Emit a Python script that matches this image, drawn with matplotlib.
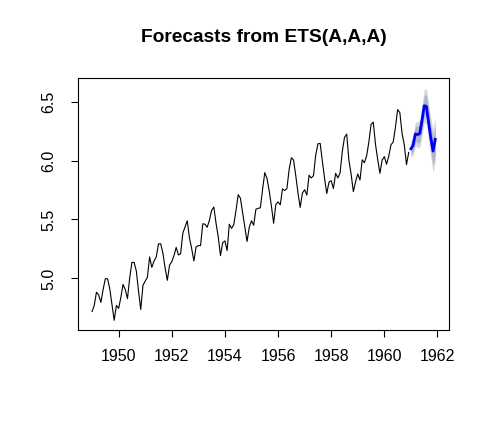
import numpy as np
import matplotlib
matplotlib.use("Agg")
import matplotlib.pyplot as plt

plt.rcParams['font.family'] = ['Liberation Sans', 'DejaVu Sans']

# Monthly airline passengers 1949-1960 (plotted on log scale values)
passengers = [
    112, 118, 132, 129, 121, 135, 148, 148, 136, 119, 104, 118,
    115, 126, 141, 135, 125, 149, 170, 170, 158, 133, 114, 140,
    145, 150, 178, 163, 172, 178, 199, 199, 184, 162, 146, 166,
    171, 180, 193, 181, 183, 218, 230, 242, 209, 191, 172, 194,
    196, 196, 236, 235, 229, 243, 264, 272, 237, 211, 180, 201,
    204, 188, 235, 227, 234, 264, 302, 293, 259, 229, 203, 229,
    242, 233, 267, 269, 270, 315, 364, 347, 312, 274, 237, 278,
    284, 277, 317, 313, 318, 374, 413, 405, 355, 306, 271, 306,
    315, 301, 356, 348, 355, 422, 465, 467, 404, 347, 305, 336,
    340, 318, 362, 348, 363, 435, 491, 505, 404, 359, 310, 337,
    360, 342, 406, 396, 420, 472, 548, 559, 463, 407, 362, 405,
    417, 391, 419, 461, 472, 535, 622, 606, 508, 461, 390, 432,
]
start_year = 1949
forecast_start = 1961

# Forecast (1961) point forecast and prediction intervals
fc_mean = [6.10, 6.13, 6.226, 6.22, 6.23, 6.34, 6.465, 6.46, 6.32, 6.19, 6.08, 6.18]
lo80 = [6.054, 6.075, 6.161, 6.148, 6.152, 6.255, 6.374, 6.362, 6.216, 6.08, 5.963, 6.056]
hi80 = [6.146, 6.185, 6.291, 6.292, 6.308, 6.425, 6.556, 6.558, 6.424, 6.30, 6.197, 6.304]
lo95 = [6.03, 6.045, 6.126, 6.11, 6.11, 6.21, 6.325, 6.31, 6.16, 6.02, 5.90, 5.99]
hi95 = [6.17, 6.215, 6.326, 6.33, 6.35, 6.47, 6.605, 6.61, 6.48, 6.36, 6.26, 6.37]

y_ticks = [5.0, 5.5, 6.0, 6.5]
x_ticks = [1950, 1952, 1954, 1956, 1958, 1960, 1962]

hist = np.log(np.array(passengers, dtype=float))
t_hist = start_year + np.arange(len(hist)) / 12.0
t_fc = forecast_start + np.arange(len(fc_mean)) / 12.0

fig = plt.figure(figsize=(4.9, 4.28), dpi=100)
ax = fig.add_axes([78.3 / 490, 1 - 330 / 428, (449 - 78.3) / 490, (330 - 78.3) / 428])

ax.fill_between(t_fc, lo95, hi95, color='#D6D7E0', linewidth=0)
ax.fill_between(t_fc, lo80, hi80, color='#B1B5CC', linewidth=0)
ax.plot(t_hist, hist, color='black', lw=0.8)
ax.plot(t_fc, fc_mean, color='#0000FF', lw=2.0)

ax.set_xlim(1948.483, 1962.433)
ax.set_ylim(4.562, 6.698)
ax.set_xticks(x_ticks)
ax.set_xticklabels([str(v) for v in x_ticks])
ax.set_yticks(y_ticks)
ax.set_yticklabels([f"{v:.1f}" for v in y_ticks])

for s in ax.spines.values():
    s.set_linewidth(0.8)
    s.set_color('black')

ax.tick_params(axis='both', direction='out', length=5, width=0.8, labelsize=11.5, colors='black')
ax.tick_params(axis='x', pad=9)
ax.tick_params(axis='y', pad=11, labelrotation=90)
for lab in ax.get_yticklabels():
    lab.set_va('center')

fig.text(0.538, 1 - 37 / 428, 'Forecasts from ETS(A,A,A)', ha='center', va='center',
         fontsize=13.8, fontweight='bold')

fig.savefig('out.png', dpi=100, facecolor='white')
